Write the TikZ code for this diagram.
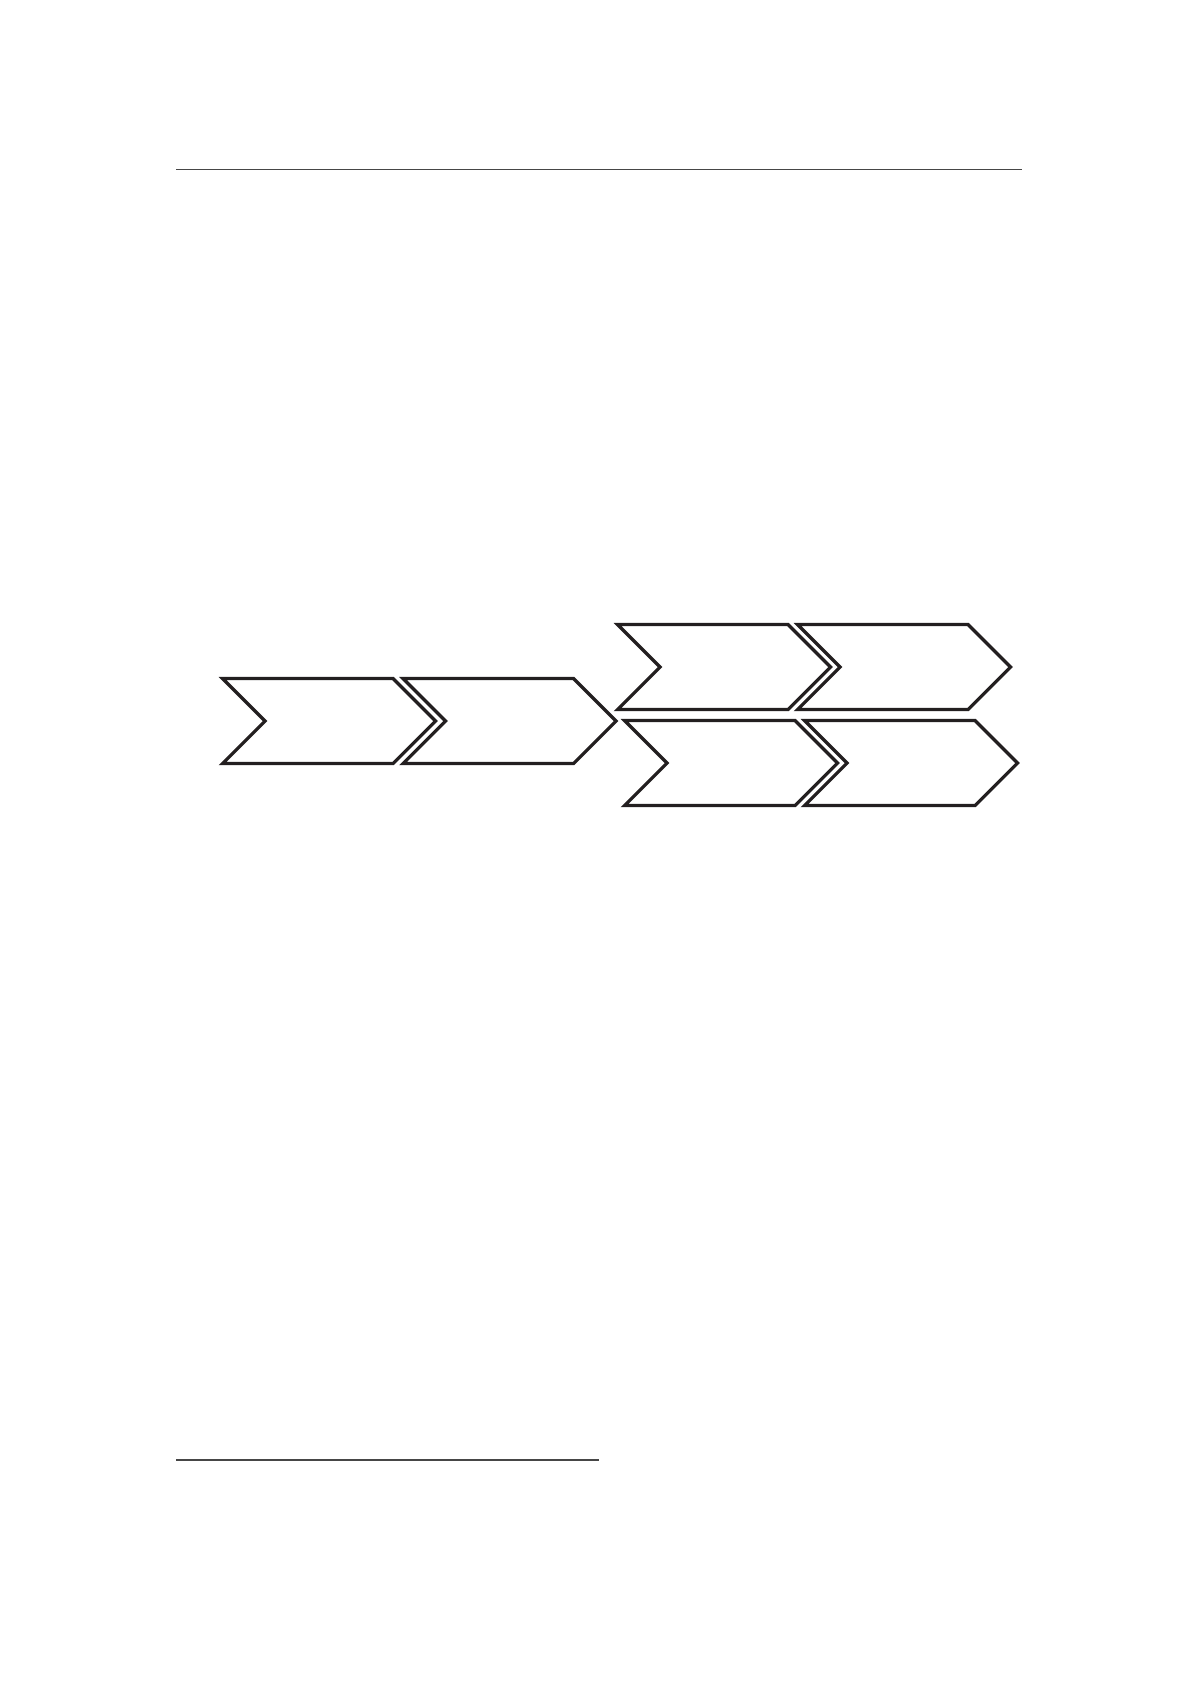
\documentclass[tikz,border=0pt]{standalone}
\usepackage{tikz}

\begin{document}
\begin{tikzpicture}[x=0.5pt,y=0.5pt,yscale=-1,xscale=1]
%set diagram left start at 0, and has height of 1693
\useasboundingbox (0,0) rectangle (1197,1693);

%Straight Lines [id:rule_top]
\draw [color={rgb, 255:red, 70; green, 70; blue, 70 }  ,line width=0.65]  (176,169.7) -- (1022,169.7) ;
%Straight Lines [id:rule_bottom]
\draw [color={rgb, 255:red, 70; green, 70; blue, 70 }  ,line width=0.65]  (176,1460) -- (599,1460) ;

%Shape: Chevron [id:chev_one]
\draw [color={rgb, 255:red, 35; green, 31; blue, 32 }  ,line width=1.6]  (222.5,678.5) -- (393,678.5) -- (435.5,721) -- (393,763.5) -- (222.5,763.5) -- (265,721) -- cycle ;
%Shape: Chevron [id:chev_two]
\draw [color={rgb, 255:red, 35; green, 31; blue, 32 }  ,line width=1.6]  (403,678.5) -- (573.5,678.5) -- (616,721) -- (573.5,763.5) -- (403,763.5) -- (445.5,721) -- cycle ;
%Shape: Chevron [id:chev_three]
\draw [color={rgb, 255:red, 35; green, 31; blue, 32 }  ,line width=1.6]  (617.5,624.5) -- (788,624.5) -- (830.5,667) -- (788,709.5) -- (617.5,709.5) -- (660,667) -- cycle ;
%Shape: Chevron [id:chev_four]
\draw [color={rgb, 255:red, 35; green, 31; blue, 32 }  ,line width=1.6]  (797.5,624.5) -- (968,624.5) -- (1010.5,667) -- (968,709.5) -- (797.5,709.5) -- (840,667) -- cycle ;
%Shape: Chevron [id:chev_five]
\draw [color={rgb, 255:red, 35; green, 31; blue, 32 }  ,line width=1.6]  (624.5,720.5) -- (795,720.5) -- (837.5,763) -- (795,805.5) -- (624.5,805.5) -- (667,763) -- cycle ;
%Shape: Chevron [id:chev_six]
\draw [color={rgb, 255:red, 35; green, 31; blue, 32 }  ,line width=1.6]  (804.5,720.5) -- (975,720.5) -- (1017.5,763) -- (975,805.5) -- (804.5,805.5) -- (847,763) -- cycle ;

\end{tikzpicture}
\end{document}
